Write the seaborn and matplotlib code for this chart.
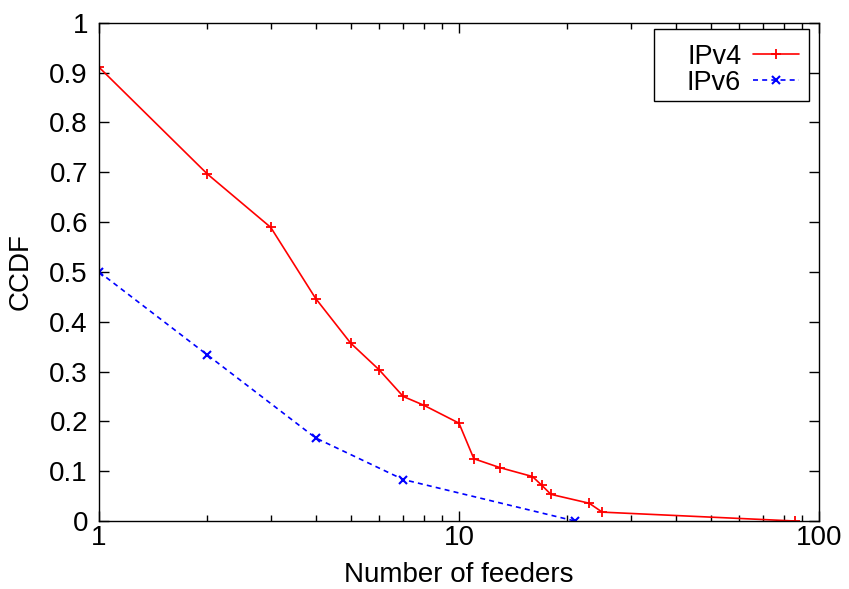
import pandas as pd
import numpy as np
import matplotlib
matplotlib.use('Agg')
import matplotlib.pyplot as plt
import matplotlib.ticker as mticker
from matplotlib.patches import Rectangle
import seaborn as sns

# CCDF of number of feeders per prefix (IPv4: 56 prefixes, IPv6: 12 prefixes)
v4_feeders = [1, 2, 3, 4, 5, 6, 7, 8, 10, 11, 13, 16, 17, 18, 23, 25, 86]
v4_ccdf = [51/56, 39/56, 33/56, 25/56, 20/56, 17/56, 14/56, 13/56, 11/56, 7/56,
           6/56, 5/56, 4/56, 3/56, 2/56, 1/56, 0.0]
v6_feeders = [1, 2, 4, 7, 21]
v6_ccdf = [6/12, 4/12, 2/12, 1/12, 0.0]

df4 = pd.DataFrame({'feeders': v4_feeders, 'ccdf': v4_ccdf})
df6 = pd.DataFrame({'feeders': v6_feeders, 'ccdf': v6_ccdf})

sns.set_style('ticks')
plt.rcParams['font.family'] = ['Liberation Sans', 'DejaVu Sans']
plt.rcParams['font.size'] = 20
plt.rcParams['text.color'] = 'black'
plt.rcParams['axes.labelcolor'] = 'black'
plt.rcParams['xtick.color'] = 'black'
plt.rcParams['ytick.color'] = 'black'

fig = plt.figure(figsize=(8.49, 5.89), dpi=100)
ax = fig.add_axes([0.1166, 0.1154, 0.848, 0.846])

sns.lineplot(data=df4, x='feeders', y='ccdf', ax=ax, color='#ff0000', lw=1.2,
             marker='+', markersize=7, markeredgewidth=1.3, markeredgecolor='#ff0000',
             label='IPv4')
sns.lineplot(data=df6, x='feeders', y='ccdf', ax=ax, color='#0000ff', lw=1.2,
             marker='x', markersize=5.5, markeredgewidth=1.5, markeredgecolor='#0000ff',
             linestyle=(0, (3, 2.5)), label='IPv6')

ax.set_xscale('log')
ax.set_xlim(1, 100)
ax.set_ylim(0, 1)
ax.set_yticks(np.arange(0, 1.01, 0.1))
ax.yaxis.set_major_formatter(mticker.FuncFormatter(lambda v, p: '%g' % round(v, 1)))
ax.xaxis.set_major_formatter(mticker.FuncFormatter(lambda v, p: '%g' % v))
ax.xaxis.set_minor_locator(mticker.LogLocator(base=10, subs=np.arange(2, 10), numticks=20))
ax.xaxis.set_minor_formatter(mticker.NullFormatter())

ax.tick_params(which='major', direction='in', length=7, width=1, top=True, right=True,
               labelsize=20, colors='black')
ax.tick_params(axis='y', which='major', pad=8)
ax.tick_params(axis='x', which='major', pad=3)
ax.tick_params(which='minor', direction='in', length=4, width=1, top=True, right=True)
for s in ax.spines.values():
    s.set_color('black')
    s.set_linewidth(1)

ax.set_xlabel('Number of feeders', fontsize=20, labelpad=8)
ax.set_ylabel('CCDF', fontsize=20, labelpad=11)

# gnuplot-style key: wide box, text left of the sample line
ax.add_patch(Rectangle((0.771, 0.843), 0.215, 0.144, transform=ax.transAxes,
                       fill=True, facecolor='white', edgecolor='black', lw=1, zorder=4))
leg = ax.legend(loc='upper right', bbox_to_anchor=(0.986, 0.977), borderaxespad=0,
                markerfirst=False, frameon=False, fontsize=19.5, handlelength=1.7,
                handletextpad=0.45, labelspacing=0.0, borderpad=0.35)
leg.set_zorder(5)

fig.savefig('out.png', dpi=100)
